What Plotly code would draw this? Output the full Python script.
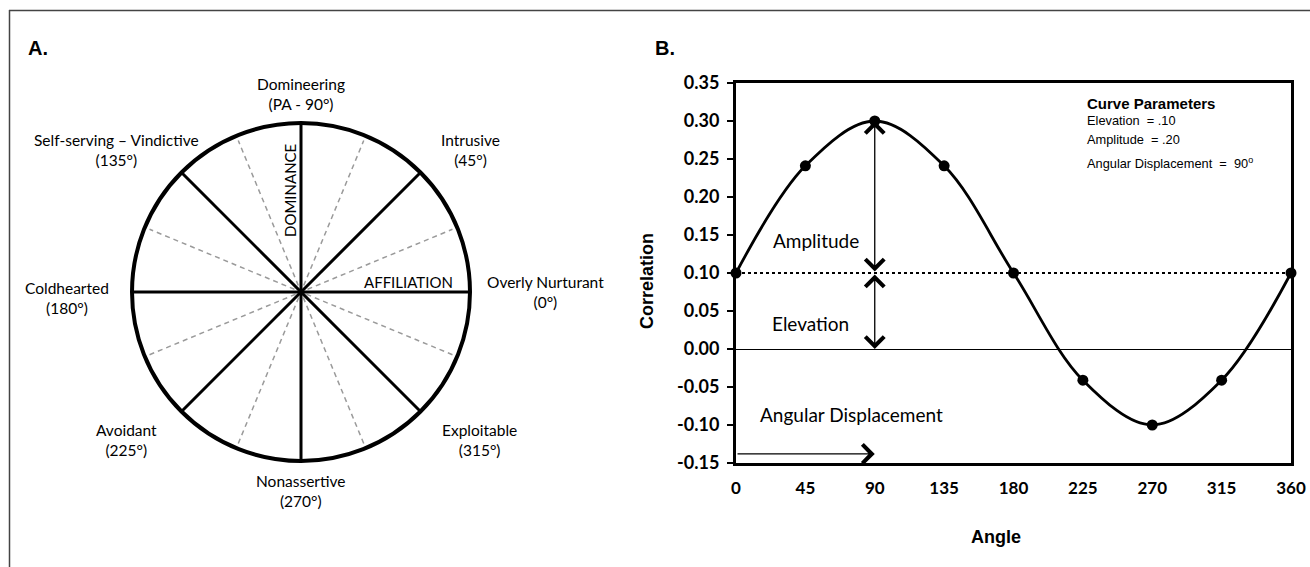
import numpy as np
import plotly.graph_objects as go

# ---------------- Panel A data ----------------
octant_names = ["Overly Nurturant", "Intrusive", "Domineering", "Self-serving – Vindictive",
                "Coldhearted", "Avoidant", "Nonassertive", "Exploitable"]
octant_angle_labels = ["(0°)", "(45°)", "(PA - 90°)", "(135°)", "(180°)", "(225°)", "(270°)", "(315°)"]
octant_angles = [0, 45, 90, 135, 180, 225, 270, 315]
half_octant_angles = [22.5, 67.5, 112.5, 157.5]
axis_names = ["AFFILIATION", "DOMINANCE"]

# ---------------- Panel B data ----------------
angles = [0, 45, 90, 135, 180, 225, 270, 315, 360]
correlations = [0.10, 0.241, 0.30, 0.241, 0.10, -0.041, -0.10, -0.041, 0.10]
y_tick_vals = [-0.15, -0.10, -0.05, 0.00, 0.05, 0.10, 0.15, 0.20, 0.25, 0.30, 0.35]
x_tick_vals = [0, 45, 90, 135, 180, 225, 270, 315, 360]
elevation = 0.10
amplitude = 0.20
displacement = 90
param_title = "<b>Curve Parameters</b>"
param_lines = ["Elevation  = .10", "Amplitude  = .20", "Angular Displacement  =  90<sup>o</sup>"]

W, H = 1310, 567
def px(x):
    return x / W
def py(y):
    return 1 - y / H

CAL = "Lato, 'Open Sans', sans-serif"
ARIAL = "'Liberation Sans', Arial, sans-serif"

fig = go.Figure()

# ---------------- Panel A: wheel ----------------
cx, cy, R = 301, 292, 169
x2_dom = [0, 0.5]
x2_range = [(0 - cx) / R, (W * 0.5 - cx) / R]
y2_range = [-(H - cy) / R, cy / R]

for a in half_octant_angles:
    t = np.deg2rad(a)
    fig.add_trace(go.Scatter(x=[-0.97 * np.cos(t), 0.97 * np.cos(t)],
                             y=[-0.97 * np.sin(t), 0.97 * np.sin(t)],
                             mode="lines", xaxis="x2", yaxis="y2",
                             line=dict(color="#9a9a9a", width=1.5, dash="5px,4px"),
                             hoverinfo="skip", showlegend=False))
for a in octant_angles[:4]:
    t = np.deg2rad(a)
    fig.add_trace(go.Scatter(x=[-np.cos(t), np.cos(t)], y=[-np.sin(t), np.sin(t)],
                             mode="lines", xaxis="x2", yaxis="y2",
                             line=dict(color="black", width=3),
                             hoverinfo="skip", showlegend=False))

shapes = []
shapes.append(dict(type="circle", xref="x2", yref="y2", x0=-1, y0=-1, x1=1, y1=1,
                   line=dict(color="black", width=4)))

# ---------------- Panel B: curve ----------------
fig.add_trace(go.Scatter(x=angles, y=correlations, mode="lines+markers",
                         line=dict(color="black", width=2.8, shape="spline", smoothing=1.0),
                         marker=dict(color="black", size=11),
                         cliponaxis=False, showlegend=False, hoverinfo="skip"))

shapes.append(dict(type="line", xref="x", yref="y", x0=0, x1=360, y0=elevation, y1=elevation,
                   line=dict(color="black", width=2, dash="dot"), layer="below"))

# outer border (top and left edge of the figure frame)
shapes.append(dict(type="line", xref="paper", yref="paper", x0=px(9), x1=1.01, y0=py(10.5), y1=py(10.5),
                   line=dict(color="#444444", width=1.5)))
shapes.append(dict(type="line", xref="paper", yref="paper", x0=px(9.5), x1=px(9.5), y0=py(10), y1=-0.01,
                   line=dict(color="#444444", width=1.5)))

annotations = []
# panel letters
annotations.append(dict(x=px(26), y=py(48), xref="paper", yref="paper", text="<b>A.</b>",
                        showarrow=False, xanchor="left", yanchor="middle",
                        font=dict(family=ARIAL, size=20, color="black")))
annotations.append(dict(x=px(653), y=py(48), xref="paper", yref="paper", text="<b>B.</b>",
                        showarrow=False, xanchor="left", yanchor="middle",
                        font=dict(family=ARIAL, size=20, color="black")))

# octant labels
label_pos = [(545, 292), (470, 150), (301, 94), (116, 150),
             (67, 298), (126, 440), (301, 491), (479, 440)]
for name, alab, (lx, ly) in zip(octant_names, octant_angle_labels, label_pos):
    annotations.append(dict(x=px(lx), y=py(ly), xref="paper", yref="paper",
                            text=name + "<br>" + alab, showarrow=False,
                            xanchor="center", yanchor="middle", align="center",
                            font=dict(family=CAL, size=15.5, color="black")))
annotations.append(dict(x=px(408), y=py(282), xref="paper", yref="paper", text=axis_names[0],
                        showarrow=False, xanchor="center", yanchor="middle",
                        font=dict(family=CAL, size=15, color="black")))
annotations.append(dict(x=px(290), y=py(191), xref="paper", yref="paper", text=axis_names[1],
                        showarrow=False, xanchor="center", yanchor="middle", textangle=-90,
                        font=dict(family=CAL, size=15, color="black")))

# panel B axis titles
annotations.append(dict(x=px(647), y=py(281), xref="paper", yref="paper", text="<b>Correlation</b>",
                        showarrow=False, textangle=-90, xanchor="center", yanchor="middle",
                        font=dict(family=ARIAL, size=18, color="black")))
annotations.append(dict(x=px(996), y=py(537), xref="paper", yref="paper", text="<b>Angle</b>",
                        showarrow=False, xanchor="center", yanchor="middle",
                        font=dict(family=ARIAL, size=18, color="black")))

# curve parameter block
annotations.append(dict(x=px(1085), y=py(103), xref="paper", yref="paper", text=param_title,
                        showarrow=False, xanchor="left", yanchor="middle",
                        font=dict(family=ARIAL, size=15, color="black")))
for txt, ly in zip(param_lines, [121, 139, 163]):
    annotations.append(dict(x=px(1085), y=py(ly), xref="paper", yref="paper", text=txt,
                            showarrow=False, xanchor="left", yanchor="middle",
                            font=dict(family=ARIAL, size=12.8, color="black")))

# labels for arrows
annotations.append(dict(x=px(816), y=py(240), xref="paper", yref="paper", text="Amplitude",
                        showarrow=False, font=dict(family=CAL, size=19, color="black")))
annotations.append(dict(x=px(810), y=py(323), xref="paper", yref="paper", text="Elevation",
                        showarrow=False, font=dict(family=CAL, size=19, color="black")))
annotations.append(dict(x=px(851), y=py(428), xref="paper", yref="paper", text="Angular Displacement",
                        showarrow=False, font=dict(family=CAL, size=19, color="black")))

# arrows
arrow_style = dict(text="", showarrow=True, xref="x", yref="y", axref="x", ayref="y",
                   arrowcolor="black", arrowwidth=1.3, arrowhead=4, arrowsize=2.8,
                   startarrowhead=4, startarrowsize=2.8)
annotations.append(dict(x=displacement, y=elevation + amplitude, ax=displacement, ay=elevation,
                        arrowside="end+start", **arrow_style))
annotations.append(dict(x=displacement, y=0, ax=displacement, ay=elevation,
                        arrowside="end+start", **arrow_style))
annotations.append(dict(x=displacement, y=-0.138, ax=0, ay=-0.138,
                        arrowside="end", **arrow_style))

fig.update_layout(
    width=W, height=H, autosize=False, margin=dict(l=0, r=0, t=0, b=0, pad=0),
    paper_bgcolor="white", plot_bgcolor="white", showlegend=False,
    shapes=shapes, annotations=annotations,
    xaxis=dict(domain=[px(736), px(1291)], range=[0, 360], tickvals=x_tick_vals,
               ticktext=[f"<b>{v}</b>" for v in x_tick_vals],
               showgrid=False, zeroline=False, showline=True, mirror=True,
               linecolor="black", linewidth=3, ticks="", ticklabelstandoff=8,
               tickfont=dict(family=CAL, size=17, color="black"), anchor="y", automargin=False),
    yaxis=dict(domain=[py(463), py(83)], range=[-0.15, 0.35], tickvals=y_tick_vals,
               ticktext=[f"<b>{v:.2f}</b>" for v in y_tick_vals],
               showgrid=False, zeroline=True, zerolinecolor="black", zerolinewidth=1.2,
               showline=True, mirror=True, linecolor="black", linewidth=3,
               ticks="outside", ticklen=6, tickwidth=1.5, tickcolor="black",
               ticklabelstandoff=4, automargin=False,
               tickfont=dict(family=CAL, size=18, color="black"), anchor="x"),
    xaxis2=dict(domain=x2_dom, range=x2_range, visible=False, anchor="y2", automargin=False),
    yaxis2=dict(domain=[0, 1], range=y2_range, visible=False, anchor="x2", automargin=False),
)

fig.write_html("out.html", config={"responsive": False},
               post_script="document.body.style.margin='0';document.body.style.overflow='hidden';")
